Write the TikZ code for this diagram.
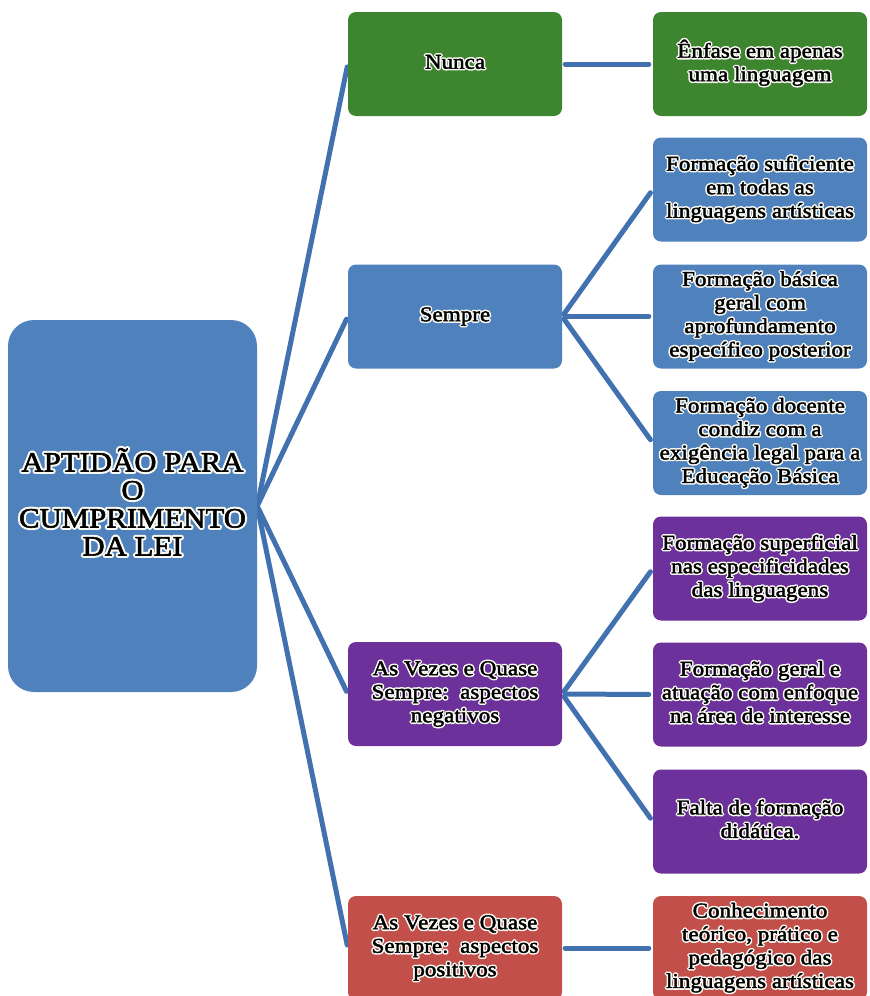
\documentclass[tikz,border=0pt]{standalone}
\usepackage{fontspec}
\setmainfont[FakeStretch=1.1,FakeBold=2]{Liberation Serif}
\newfontfamily\glowfont[FakeStretch=1.1,FakeBold=17]{Liberation Serif}
\usetikzlibrary{backgrounds}
\definecolor{boxblue}{RGB}{79,129,189}
\definecolor{boxgreen}{RGB}{62,133,47}
\definecolor{boxpurple}{RGB}{108,49,155}
\definecolor{boxred}{RGB}{194,79,74}
\definecolor{linkblue}{RGB}{66,113,176}
\definecolor{halo}{RGB}{250,250,245}
\newcommand\glow[1]{{\setbox0\hbox{\begin{tabular}{@{}c@{}}#1\end{tabular}}\special{pdf:literal 1 j}\rlap{\makebox[\wd0]{\color{halo}\glowfont\begin{tabular}{@{}c@{}}#1\end{tabular}}}\box0}}
\begin{document}
\begin{tikzpicture}[x=1pt,y=-1pt,
  box/.style={rounded corners=8pt, minimum width=214pt, minimum height=104pt,
    inner sep=0pt, text=black, font=\fontsize{21}{23.5}\selectfont},
  rootbox/.style={rounded corners=26pt, minimum width=249pt, minimum height=372pt,
    inner sep=0pt, text=black, font=\fontsize{28}{28}\selectfont, fill=boxblue},
  bl/.style={box, fill=boxblue},
  gr/.style={box, fill=boxgreen},
  pu/.style={box, fill=boxpurple},
  re/.style={box, fill=boxred},
  link/.style={draw=linkblue, line width=5pt, line cap=round},
]
\useasboundingbox (0,0) rectangle (870,996);
\clip (0,0) rectangle (870,996);

\node[rootbox] (root) at (132.5,506) {\glow{APTIDÃO PARA\\O\\CUMPRIMENTO\\DA LEI}};

\node[gr] (nunca) at (455,64) {\glow{Nunca}};
\node[bl] (sempre) at (455,316.5) {\glow{Sempre}};
\node[pu] (neg) at (455,694) {\glow{As Vezes e Quase\\Sempre:\ \ aspectos\\negativos}};
\node[re] (pos) at (455,948) {\glow{As Vezes e Quase\\Sempre:\ \ aspectos\\positivos}};

\node[gr] (enfase) at (760,64) {\glow{Ênfase em apenas\\uma linguagem}};
\node[bl] (suf) at (760,189.5) {\glow{Formação suficiente\\em todas as\\linguagens artísticas}};
\node[bl] (bas) at (760,316.5) {\glow{Formação básica\\geral com\\aprofundamento\\específico posterior}};
\node[bl] (doc) at (760,443) {\glow{Formação docente\\condiz com a\\exigência legal para a\\Educação Básica}};
\node[pu] (sup) at (760,568.5) {\glow{Formação superficial\\nas especificidades\\das linguagens}};
\node[pu] (ger) at (760,694.5) {\glow{Formação geral e\\atuação com enfoque\\na área de interesse}};
\node[pu] (fal) at (760,821.5) {\glow{Falta de formação\\didática.}};
\node[re] (con) at (760,948) {\glow{Conhecimento\\teórico, prático e\\pedagógico das\\linguagens artísticas}};

\begin{scope}[on background layer]
\foreach \m in {nunca,sempre,neg,pos}
  \draw[link, shorten <=1pt, shorten >=3pt] (root.east) -- (\m.west);
\draw[link, shorten <=3pt, shorten >=4pt] (nunca.east) -- (enfase.west);
\foreach \r in {suf,bas,doc}
  \draw[link, shorten <=3pt, shorten >=4pt] (sempre.east) -- (\r.west);
\foreach \r in {sup,ger,fal}
  \draw[link, shorten <=3pt, shorten >=4pt] (neg.east) -- (\r.west);
\draw[link, shorten <=3pt, shorten >=4pt] (pos.east) -- (con.west);
\end{scope}
\end{tikzpicture}
\end{document}
